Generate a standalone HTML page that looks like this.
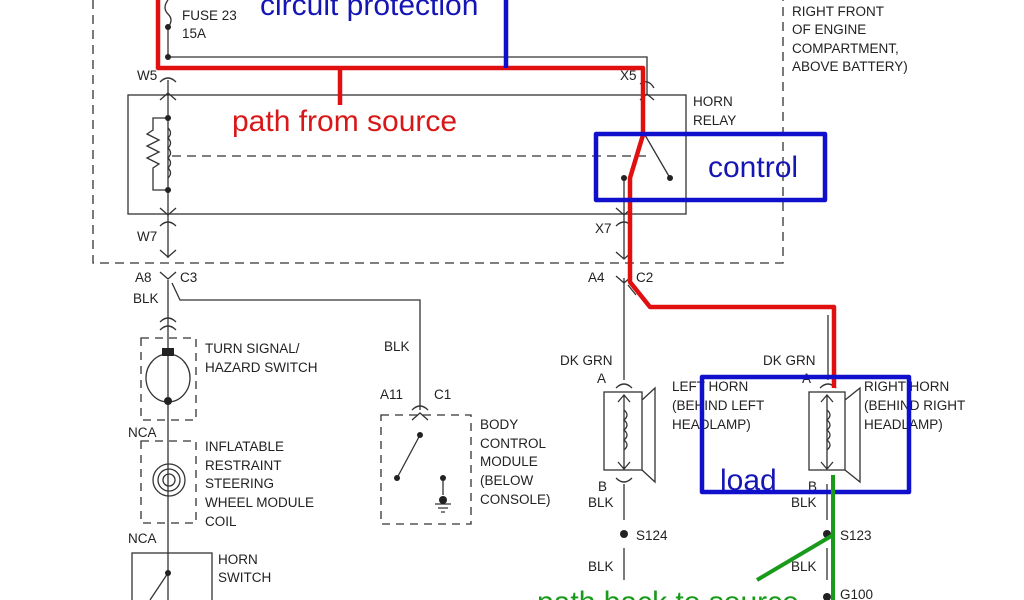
<!DOCTYPE html>
<html><head><meta charset="utf-8"><style>
html,body{margin:0;padding:0;background:#fff;width:1024px;height:600px;overflow:hidden}
svg{display:block}
.t{font-family:"Liberation Sans",sans-serif;font-size:13.5px;fill:#222}
.b{font-family:"Liberation Sans",sans-serif;font-size:30px}
</style></head><body>
<svg width="1024" height="600" viewBox="0 0 1024 600" xmlns="http://www.w3.org/2000/svg">
<g fill="none" stroke="#333" stroke-width="1.3">
 <path d="M93 0 V263 H783 V0" stroke-dasharray="9,6"/>
 <path d="M168 0 q-6 8 0 14 q6 6 0 13 V57 H647 V95"/>
 <rect x="128" y="95" width="558" height="119"/>
 <path d="M172 156 H650" stroke-dasharray="9,6"/>
 <path d="M168 80 V258"/>
 <path d="M160 82 q8 -8 16 0 M160 100 l8 -7 l8 7 M160 208 l8 7 l8 -7 M160 226 q8 -8 16 0 M160 250 l8 7 l8 -7"/>
 <path d="M168 118 H153 V130 l-6 4 l12 6 l-12 6 l12 6 l-12 6 l12 6 l-6 4 V190 H168"/>
 <path d="M168 128 q5 5 0 10 q5 5 0 10 q5 5 0 10 q5 5 0 10 q5 5 0 10"/>
 <path d="M645 135 L670 178"/>
 <path d="M624 178 V258 M616 208 l8 7 l8 -7 M616 226 q8 -8 16 0 M616 252 l8 7 l8 -7"/>
 <path d="M640 84 q8 -6 14 4 M640 100 l7 -6 l7 6"/>
 <path d="M160 272 l8 7 l8 -7 M172 283 L180 300 H420 V410"/>
 <path d="M168 280 V600"/>
 <path d="M160 322 q8 -8 16 0 M160 330 q8 -8 16 0"/>
 <rect x="141" y="338" width="55" height="82" stroke-dasharray="8,6"/>
 <ellipse cx="168" cy="378" rx="22" ry="24"/>
 <rect x="141" y="441" width="55" height="82" stroke-dasharray="8,6"/>
 <circle cx="169" cy="480" r="16"/><circle cx="169" cy="480" r="11"/><circle cx="169" cy="480" r="6"/>
 <rect x="132" y="553" width="80" height="60"/>
 <path d="M168 573 L150 600"/>
 <path d="M412 410 q8 -8 16 0 M412 420 l8 -7 l8 7"/>
 <rect x="381" y="415" width="90" height="109" stroke-dasharray="8,6"/>
 <path d="M420 435 L397 478 M443 478 V495 M435 504 h16 M438 508 h10 M441 512 h4"/>
 <path d="M624 278 V380 M616 276 l8 7 l8 -7 M628 285 l8 10"/>
 <path d="M616 388 q8 -8 16 0"/>
 <rect x="604" y="392" width="38" height="78"/>
 <path d="M642 400 L655 388 V482 L642 470"/>
 <path d="M624 395 V468 M618 402 l6 -7 l6 7 M618 462 l6 7 l6 -7"/>
 <path d="M624 410 q6 5 0 10 q6 5 0 10 q6 5 0 10 q6 5 0 10"/>
 <path d="M616 478 q8 8 16 0 M624 484 V520 M624 548 V580"/>
 <path d="M828 315 V380 M820 388 q8 -8 16 0"/>
 <rect x="809" y="392" width="36" height="78"/>
 <path d="M845 400 L860 388 V482 L845 470"/>
 <path d="M827 395 V468 M821 402 l6 -7 l6 7 M821 462 l6 7 l6 -7"/>
 <path d="M827 410 q6 5 0 10 q6 5 0 10 q6 5 0 10 q6 5 0 10"/>
 <path d="M827 484 V520 M827 548 V580"/>
</g>
<g fill="#222">
 <circle cx="168" cy="27" r="3"/><circle cx="168" cy="57" r="3"/>
 <circle cx="168" cy="118" r="3"/><circle cx="168" cy="190" r="3"/>
 <circle cx="624" cy="178" r="3"/><circle cx="670" cy="178" r="3"/>
 <rect x="162" y="348" width="12" height="8"/><circle cx="168" cy="401" r="4"/>
 <circle cx="168" cy="573" r="3"/>
 <circle cx="420" cy="435" r="3"/><circle cx="397" cy="478" r="3"/><circle cx="443" cy="478" r="3"/>
 <circle cx="443" cy="500" r="4"/>
 <circle cx="624" cy="534" r="4"/><circle cx="827" cy="534" r="4"/><circle cx="827" cy="597" r="4"/>
</g>
<g class="t">
 <text x="182" y="20">FUSE 23</text><text x="182" y="38">15A</text>
 <text x="137" y="80">W5</text><text x="137" y="241">W7</text>
 <text x="620" y="80">X5</text><text x="595" y="233">X7</text>
 <text x="693" y="106">HORN</text><text x="693" y="125">RELAY</text>
 <text x="792" y="16">RIGHT FRONT</text><text x="792" y="34">OF ENGINE</text>
 <text x="792" y="53">COMPARTMENT,</text><text x="792" y="71">ABOVE BATTERY)</text>
 <text x="135" y="282">A8</text><text x="180" y="282">C3</text>
 <text x="133" y="303">BLK</text>
 <text x="205" y="353">TURN SIGNAL/</text><text x="205" y="372">HAZARD SWITCH</text>
 <text x="128" y="437">NCA</text>
 <text x="205" y="451">INFLATABLE</text><text x="205" y="470">RESTRAINT</text>
 <text x="205" y="488">STEERING</text><text x="205" y="507">WHEEL MODULE</text><text x="205" y="526">COIL</text>
 <text x="128" y="543">NCA</text>
 <text x="218" y="564">HORN</text><text x="218" y="582">SWITCH</text>
 <text x="384" y="351">BLK</text>
 <text x="380" y="399">A11</text><text x="434" y="399">C1</text>
 <text x="480" y="429">BODY</text><text x="480" y="448">CONTROL</text><text x="480" y="466">MODULE</text>
 <text x="480" y="485">(BELOW</text><text x="480" y="504">CONSOLE)</text>
 <text x="588" y="282">A4</text><text x="636" y="282">C2</text>
 <text x="560" y="365">DK GRN</text><text x="597" y="383">A</text>
 <text x="672" y="391">LEFT HORN</text><text x="672" y="410">(BEHIND LEFT</text><text x="672" y="429">HEADLAMP)</text>
 <text x="598" y="491">B</text><text x="588" y="507">BLK</text>
 <text x="636" y="540">S124</text><text x="588" y="571">BLK</text>
 <text x="763" y="365">DK GRN</text><text x="802" y="383">A</text>
 <text x="864" y="391">RIGHT HORN</text><text x="864" y="410">(BEHIND RIGHT</text><text x="864" y="429">HEADLAMP)</text>
 <text x="808" y="491">B</text><text x="791" y="507">BLK</text>
 <text x="840" y="540">S123</text><text x="791" y="571">BLK</text><text x="840" y="599">G100</text>
</g>
<g fill="none" stroke-linejoin="round">
 <path d="M158 0 V68 H643 V135 L630 178 V282 L650 307 H834 V388" stroke="#e01010" stroke-width="4.5"/>
 <path d="M340 68 V105" stroke="#e01010" stroke-width="4.5"/>
 <path d="M506 0 V68" stroke="#1010cc" stroke-width="4.5"/>
 <rect x="596" y="134" width="229" height="66" stroke="#1010cc" stroke-width="4.5"/>
 <rect x="702" y="377" width="207" height="115" stroke="#1010cc" stroke-width="4.5"/>
 <path d="M833 475 V600 M757 580 L833 535" stroke="#1a9a1a" stroke-width="4"/>
</g>
<text class="b" x="260" y="15" fill="#1515b5">circuit protection</text>
<text class="b" x="232" y="131" fill="#d81818">path from source</text>
<text class="b" x="708" y="177" fill="#1515b5">control</text>
<text class="b" x="720" y="490" fill="#1515b5">load</text>
<text class="b" x="537" y="612" fill="#1a9a1a">path back to source</text>
</svg>
</body></html>
